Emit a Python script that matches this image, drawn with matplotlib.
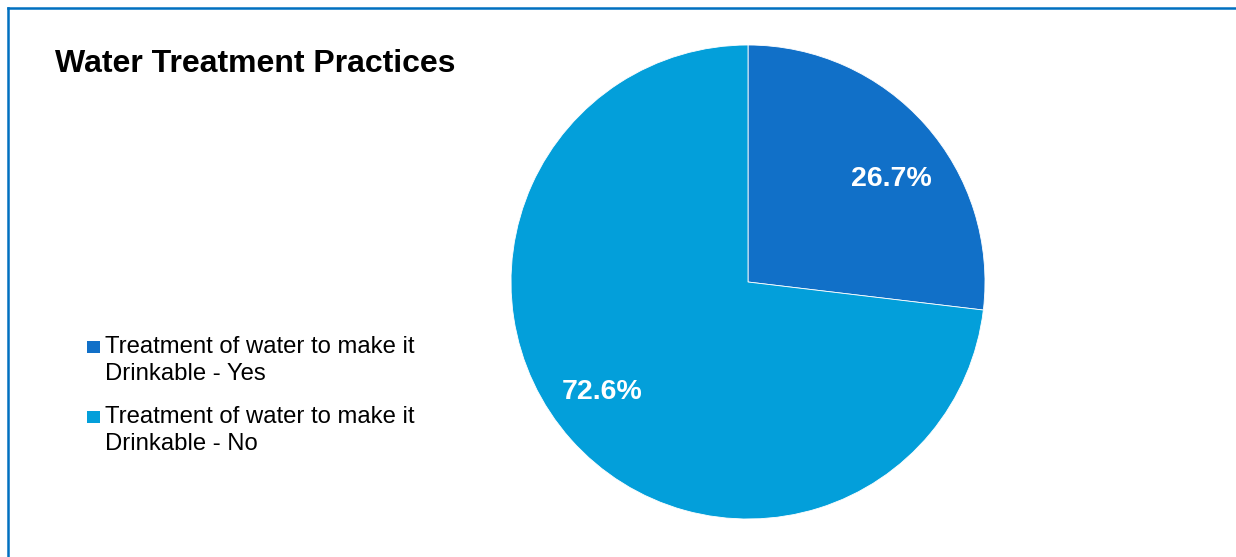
import matplotlib.pyplot as plt
from matplotlib.lines import Line2D
from matplotlib.patches import Rectangle
import numpy as np

plt.rcParams['font.family'] = ['Liberation Sans', 'DejaVu Sans']

labels = ['Treatment of water to make it\nDrinkable - Yes',
          'Treatment of water to make it\nDrinkable - No']
values = [26.7, 72.6]
pct_text = ['26.7%', '72.6%']
colors = ['#1170C8', '#039FDA']

W, H = 1236, 557
fig = plt.figure(figsize=(W / 100, H / 100), dpi=100)

# pie axes: centre (748, 282) px, radius 237 px
cx, cy, r = 748, 282, 237
ax = fig.add_axes([(cx - r) / W, (H - cy - r) / H, 2 * r / W, 2 * r / H])
wedges, _ = ax.pie(values, colors=colors, startangle=90, counterclock=False,
                   radius=1, wedgeprops=dict(edgecolor='white', linewidth=0.6))
ax.set_xlim(-1, 1)
ax.set_ylim(-1, 1)
ax.axis('off')

# label positions (angle in deg, radius fraction), placed like the original
label_pos = [(35.5, 0.745), (217, 0.77)]
for txt, (ang, rr) in zip(pct_text, label_pos):
    a = np.deg2rad(ang)
    ax.text(rr * np.cos(a), rr * np.sin(a), txt, ha='center', va='center',
            color='white', fontsize=20.5, fontweight='bold')

fig.text(55 / W, 1 - 72 / H, 'Water Treatment Practices', fontsize=23,
         fontweight='bold', ha='left', va='baseline')

# legend drawn by hand so the square sits on the first line
entry_top = [353, 423]
for lab, c, base in zip(labels, colors, entry_top):
    fig.add_artist(Rectangle((87 / W, 1 - base / H), 13 / W, 12 / H,
                             facecolor=c, edgecolor='none',
                             transform=fig.transFigure))
    for i, line in enumerate(lab.split('\n')):
        fig.text(105 / W, 1 - (base + i * 26.5) / H, line, fontsize=17.2,
                 ha='left', va='baseline')

# frame lines on left and top
fig.add_artist(Line2D([7.5 / W, 7.5 / W], [0, 1 - 8 / H], color='#0070C0',
                      linewidth=1.8, transform=fig.transFigure))
fig.add_artist(Line2D([7.5 / W, 1], [1 - 8 / H, 1 - 8 / H], color='#0070C0',
                      linewidth=1.8, transform=fig.transFigure))

fig.savefig('out.png', dpi=100)
